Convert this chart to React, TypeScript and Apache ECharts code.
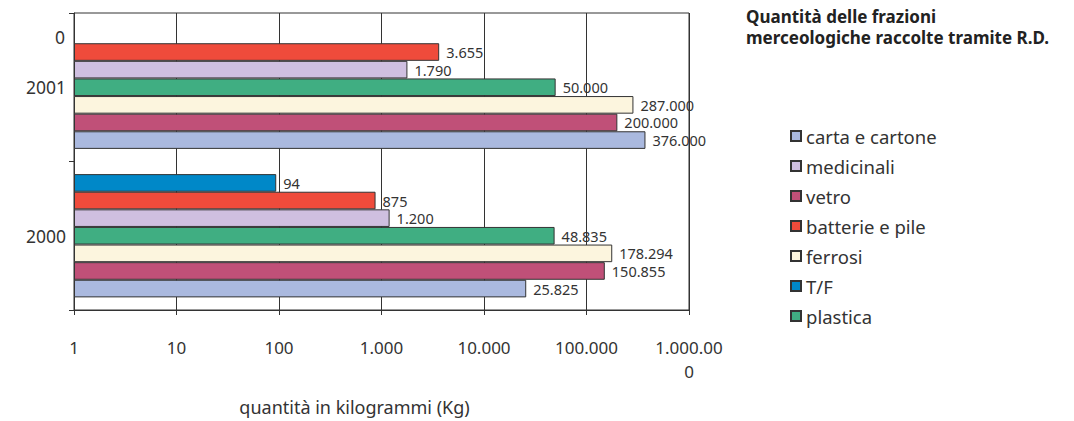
import React, { useEffect, useRef } from "react";
import * as echarts from "echarts";

const years = ["2000", "2001"];
const seriesNames = ["T/F", "batterie e pile", "medicinali", "plastica", "ferrosi", "vetro", "carta e cartone"];
const legendOrder = ["carta e cartone", "medicinali", "vetro", "batterie e pile", "ferrosi", "T/F", "plastica"];
const tf = [94, null];
const batterie = [875, 3655];
const medicinali = [1200, 1790];
const plastica = [48835, 50000];
const ferrosi = [178294, 287000];
const vetro = [150855, 200000];
const carta = [25825, 376000];
const colors = ["#0088C8", "#EF4B3B", "#CFBFE0", "#40AE82", "#FCF5DE", "#C05078", "#AAB9DF"];
const FONT = "Noto Sans";

function fmt(v: number): string {
  return String(Math.round(v)).replace(/\B(?=(\d{3})+(?!\d))/g, ".");
}

export default function App() {
  const ref = useRef<HTMLDivElement>(null);
  useEffect(() => {
    if (!ref.current) return;
    const chart = echarts.init(ref.current, undefined, { renderer: "svg" });
    const values = [tf, batterie, medicinali, plastica, ferrosi, vetro, carta];
    chart.setOption({
      animation: false,
      textStyle: { fontFamily: FONT },
      title: {
        text: "Quantità delle frazioni\nmerceologiche raccolte tramite R.D.",
        left: 746,
        top: 6,
        padding: 0,
        textStyle: { fontFamily: FONT, fontSize: 17, fontWeight: "bold", color: "#222", lineHeight: 21 },
      },
      legend: {
        data: legendOrder,
        orient: "vertical",
        left: 790,
        top: 126,
        padding: 0,
        itemWidth: 10,
        itemHeight: 10,
        itemGap: 10,
        icon: "rect",
        textStyle: { fontFamily: FONT, fontSize: 18.5, color: "#333", lineHeight: 20 },
      },
      grid: { left: 74, top: 13, width: 615, height: 303, show: true, borderColor: "#333", borderWidth: 1 },
      xAxis: {
        type: "log",
        logBase: 10,
        min: 1,
        max: 1000000,
        interval: 1,
        name: "quantità in kilogrammi (Kg)",
        nameLocation: "middle",
        nameGap: 88,
        nameTextStyle: { fontFamily: FONT, fontSize: 18, color: "#333", padding: [0, 54, 0, 0] },
        axisLine: { show: true, lineStyle: { color: "#333" } },
        axisTick: { show: true, length: 5, lineStyle: { color: "#333" } },
        splitLine: { show: true, lineStyle: { color: "#333", width: 1 } },
        minorTick: { show: false },
        axisLabel: {
          fontFamily: FONT,
          fontSize: 17,
          color: "#333",
          margin: 25,
          lineHeight: 24,
          formatter: (v: number) => (v >= 1000000 ? "1.000.00\n0" : fmt(v)),
        },
      },
      yAxis: {
        type: "category",
        data: years,
        axisLine: { show: true, lineStyle: { color: "#333" } },
        axisTick: { show: true, length: 5, lineStyle: { color: "#333" } },
        splitLine: { show: false },
        axisLabel: { fontFamily: FONT, fontSize: 17.5, color: "#333", margin: 8, padding: [8, 0, 0, 0] },
      },
      graphic: [
        {
          type: "text",
          left: 55,
          top: 28,
          style: { text: "0", fontFamily: FONT, fontSize: 17.5, fill: "#333" },
        },
      ],
      series: seriesNames.map((name, i) => ({
        name,
        type: "bar",
        data: values[i],
        barGap: "0%",
        barCategoryGap: "17%",
        itemStyle: { color: colors[i], borderColor: "#333", borderWidth: 1 },
        label: {
          show: true,
          position: "right",
          distance: 7,
          fontFamily: FONT,
          fontSize: 14.5,
          lineHeight: 15,
          color: "#333",
          formatter: (p: any) => fmt(p.value),
        },
      })),
    });
    return () => chart.dispose();
  }, []);
  return <div ref={ref} style={{ position: "absolute", left: 0, top: 0, width: 1074, height: 421 }} />;
}
